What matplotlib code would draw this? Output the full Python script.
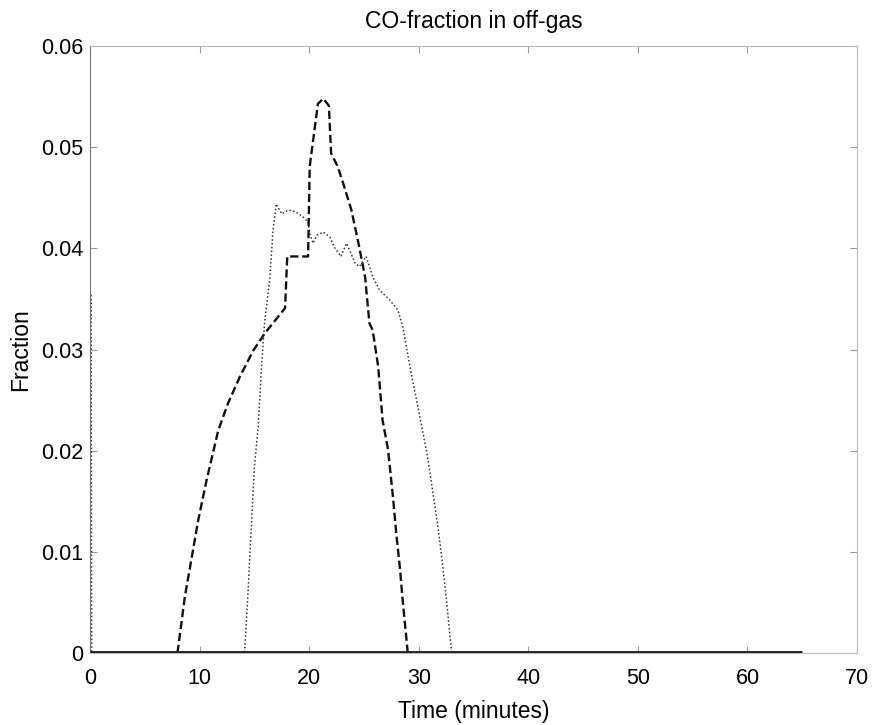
import matplotlib.pyplot as plt
import numpy as np

plt.rcParams['font.family'] = ['Liberation Sans', 'DejaVu Sans']

# CO fraction in the off-gas, three runs
t_base = [0, 65]
co_base = [0, 0]

t_dash = [7.98, 8.66, 9.87, 10.64, 11.7, 12.6, 13.67, 14.9, 15.95, 17.8,
          18.0, 19.9, 20.05, 20.4, 20.8, 21.3, 21.8, 22.0, 22.6, 23.2, 23.85,
          24.5, 25.1, 25.5, 25.8, 26.3, 26.7, 27.2, 27.65, 27.95, 28.3, 28.5,
          29.0]
co_dash = [0, 0.0056, 0.0131, 0.0171, 0.0220, 0.0247, 0.0273, 0.0299, 0.0316,
           0.0341, 0.0392, 0.0392, 0.0481, 0.0510, 0.0543, 0.0548, 0.0541,
           0.0494, 0.0481, 0.0461, 0.0438, 0.0405, 0.0372, 0.0326, 0.0319,
           0.0283, 0.0230, 0.0201, 0.0154, 0.0118, 0.0082, 0.0056, 0]

t_dot = [0.1, 0.15, 14.1, 14.4, 14.75, 15.0, 15.35, 15.65, 15.95, 16.4, 16.7,
         17.0, 17.5, 18.1, 18.8, 19.45, 19.9, 20.05, 20.35, 20.7, 21.3, 21.9,
         22.3, 22.9, 23.4, 23.7, 24.2, 24.6, 25.2, 25.8, 26.4, 27.35, 28.1,
         28.55, 29.2, 29.8, 30.4, 30.85, 31.3, 31.75, 32.2, 32.5, 33.0]
co_dot = [0.0354, 0, 0, 0.0056, 0.0131, 0.0184, 0.0224, 0.0283, 0.0329,
          0.0369, 0.0418, 0.0444, 0.0434, 0.0438, 0.0436, 0.0431, 0.0426,
          0.0415, 0.0405, 0.0413, 0.0416, 0.0411, 0.0401, 0.0392, 0.0405,
          0.0398, 0.0385, 0.0382, 0.0392, 0.0372, 0.0359, 0.0349, 0.0339,
          0.0322, 0.0283, 0.0250, 0.0217, 0.0191, 0.0158, 0.0125, 0.0085,
          0.0056, 0]

fig = plt.figure(figsize=(8.8, 7.25), dpi=100)
ax = fig.add_axes([0.1023, 0.0993, 0.8716, 0.8372])

ax.plot(t_dot, co_dot, color='#333333', lw=1.1, linestyle=(0, (1, 1.5)))
ax.plot(t_dash, co_dash, color='#111111', lw=1.7, linestyle=(0, (3.5, 1.6)))
ax.plot(t_base, co_base, color='#222222', lw=3.5, solid_capstyle='butt', zorder=5)

ax.set_xlim(0, 70)
ax.set_ylim(0, 0.06)
ax.set_xticks(np.arange(0, 71, 10))
ax.set_yticks(np.arange(0, 0.061, 0.01))
ax.set_yticklabels(['0', '0.01', '0.02', '0.03', '0.04', '0.05', '0.06'])

ax.tick_params(direction='in', length=5, width=0.8, color='#999999',
               labelsize=15.5, top=True, right=True)
ax.tick_params(axis='x', pad=11)
ax.tick_params(axis='y', pad=5)
for side in ['top', 'right', 'bottom']:
    ax.spines[side].set_color('#bbbbbb')
ax.spines['left'].set_color('#777777')

ax.set_xlabel('Time (minutes)', fontsize=16.5, labelpad=8)
ax.set_ylabel('Fraction', fontsize=16.5, labelpad=6)
ax.set_title('CO-fraction in off-gas', fontsize=16.5, pad=13)

fig.savefig('out.png', dpi=100)
